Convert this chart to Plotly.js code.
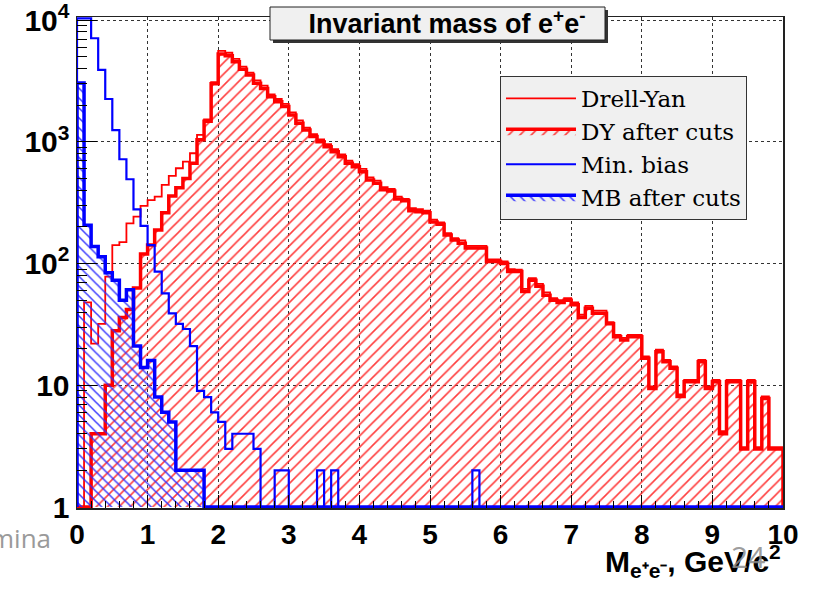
<!DOCTYPE html>
<html><head><meta charset="utf-8">
<script src="https://cdn.plot.ly/plotly-3.0.1.min.js"></script>
<style>html,body{margin:0;padding:0;background:#fff;} #chart{width:815px;height:589px;}</style>
</head><body><div id="chart"></div>
<script>
// ---- histogram range (100 bins of equal width) ----
const xMin = 0, xMax = 10;

// ---- series values, one per bin (0.1 GeV/c^2 each) ----
const drellYan = [
  0, 48, 22, 32, 78, 142, 150, 214, 243, 298,
  332, 355, 443, 525, 607, 687, 806, 1140, 1530, 3100,
  5600, 5400, 4800, 4150, 3700, 3200, 2900, 2450, 2250, 2050,
  1750, 1500, 1310, 1160, 1050, 960, 870, 790, 700, 655,
  600, 510, 480, 425, 410, 355, 340, 285, 280, 272,
  230, 218, 178, 162, 155, 140, 140, 140, 108, 108,
  104, 90, 89, 62, 76, 68, 58, 52, 50, 52,
  48, 38, 45, 41, 41, 33, 26, 24.5, 26, 26,
  17.3, 9.8, 19.6, 16.2, 14.3, 8.4, 11.1, 11.1, 16.2, 9.8,
  11.1, 4.2, 11.1, 11.1, 3.1, 11.1, 3.1, 8.1, 3.1, 3.1
];
const dyAfterCuts = [
  0, 0, 4, 4, 10, 28, 36, 42, 63, 120,
  142, 189, 262, 360, 420, 500, 667, 1040, 1480, 3000,
  5270, 5100, 4560, 3950, 3550, 3030, 2750, 2350, 2140, 1950,
  1665, 1420, 1253, 1105, 1000, 910, 830, 755, 667, 625,
  569, 486, 457, 405, 395, 340, 328, 272, 267, 262,
  220, 210, 172, 156, 147, 134, 134, 134, 104, 104,
  100, 86, 86, 59, 73, 65, 55, 50, 48, 50,
  46, 36, 43, 39, 39, 32, 25, 23.6, 25, 25,
  16.7, 9.4, 18.9, 15.6, 13.8, 8.1, 10.7, 10.7, 15.6, 9.4,
  10.7, 4, 10.7, 10.7, 3, 10.7, 3, 7.8, 3, 3
];
const minBias = [
  15000, 11000, 7100, 3900, 2250, 1250, 720, 493, 279, 204,
  142, 86, 57, 39, 32, 29, 21, 9, 8, 6,
  5, 3, 4, 4, 4, 3, 0, 0, 2, 2,
  0, 0, 0, 0, 2, 0, 2, 0, 0, 0,
  0, 0, 0, 0, 0, 0, 0, 0, 0, 0,
  0, 0, 0, 0, 0, 0, 2, 0, 0, 0,
  0, 0, 0, 0, 0, 0, 0, 0, 0, 0,
  0, 0, 0, 0, 0, 0, 0, 0, 0, 0,
  0, 0, 0, 0, 0, 0, 0, 0, 0, 0,
  0, 0, 0, 0, 0, 0, 0, 0, 0, 0
];
const mbAfterCuts = [
  3050, 207, 138, 114, 84, 73, 50, 61, 21, 14,
  16, 8, 6, 5, 2, 2, 2, 2, 0, 0,
  0, 0, 0, 0, 0, 0, 0, 0, 0, 0,
  0, 0, 0, 0, 0, 0, 0, 0, 0, 0,
  0, 0, 0, 0, 0, 0, 0, 0, 0, 0,
  0, 0, 0, 0, 0, 0, 0, 0, 0, 0,
  0, 0, 0, 0, 0, 0, 0, 0, 0, 0,
  0, 0, 0, 0, 0, 0, 0, 0, 0, 0,
  0, 0, 0, 0, 0, 0, 0, 0, 0, 0,
  0, 0, 0, 0, 0, 0, 0, 0, 0, 0
];

// ---- names and tick labels ----
const seriesNames = ['Drell-Yan', 'DY after cuts', 'Min. bias', 'MB after cuts'];
const xTickVals = [0, 1, 2, 3, 4, 5, 6, 7, 8, 9, 10];
const yTickVals = [1, 10, 100, 1000, 10000];
const yTickText = ['1', '10', '10<sup>2</sup>', '10<sup>3</sup>', '10<sup>4</sup>'];
const titleText = 'Invariant mass of e<sup>+</sup>e<sup>-</sup>';
const xTitleText = 'M<sub>e⁺e⁻</sub>, GeV/c<sup>2</sup>';

// ---- layout constants ----
const yLogMin = -0.0082, yLogMax = 4.026;
const floorVal = 1;                              // ROOT draws empty bins on the axis minimum
const ceilVal = Math.pow(10, yLogMax - 0.012);   // and clips overflow at the frame top

function stepOutline(vals) {
  const n = vals.length, w = (xMax - xMin) / n;
  const xs = [xMin], ys = [floorVal];
  for (let i = 0; i < n; i++) {
    xs.push(xMin + i * w);
    ys.push(Math.min(ceilVal, Math.max(floorVal, vals[i])));
  }
  xs.push(xMax); ys.push(floorVal);
  return {xs, ys};
}

const RED = '#ff0000', BLUE = '#0000ff';
const sDY = stepOutline(drellYan), sDYc = stepOutline(dyAfterCuts);
const sMB = stepOutline(minBias), sMBc = stepOutline(mbAfterCuts);

const traces = [
  {x: sDY.xs, y: sDY.ys, name: seriesNames[0], mode: 'lines', line: {shape: 'hv', color: RED, width: 1.8}},
  {x: sDYc.xs, y: sDYc.ys, name: seriesNames[1], mode: 'lines', line: {shape: 'hv', color: RED, width: 3.5},
   fill: 'toself', fillcolor: 'rgba(0,0,0,0)',
   fillpattern: {shape: '/', size: 8, solidity: 0.2, fgcolor: '#ff2a2a', fgopacity: 0.9, bgcolor: 'rgba(0,0,0,0)', fillmode: 'overlay'}},
  {x: sMB.xs, y: sMB.ys, name: seriesNames[2], mode: 'lines', line: {shape: 'hv', color: BLUE, width: 2.2}},
  {x: sMBc.xs, y: sMBc.ys, name: seriesNames[3], mode: 'lines', line: {shape: 'hv', color: BLUE, width: 3.5},
   fill: 'toself', fillcolor: 'rgba(0,0,0,0)',
   fillpattern: {shape: '\\', size: 7, solidity: 0.22, fgcolor: '#2a2aff', fgopacity: 0.9, bgcolor: 'rgba(0,0,0,0)', fillmode: 'overlay'}}
];

// minor ticks on the log axis: 2..9 in every decade
const yMinor = [];
for (let d = 0; d < 4; d++) for (let k = 2; k <= 9; k++) yMinor.push(k * Math.pow(10, d));

const layout = {
  width: 815, height: 589,
  margin: {l: 77, r: 32, t: 17, b: 81, pad: 0},
  paper_bgcolor: '#ffffff', plot_bgcolor: '#ffffff',
  showlegend: true,
  title: {text: titleText, xref: 'container', yref: 'container', x: 447 / 815, xanchor: 'center',
          y: 1 - 24 / 589, yanchor: 'middle',
          font: {family: 'Liberation Sans, Arial, sans-serif', size: 27, color: '#000', weight: 'bold'}},
  xaxis: {
    range: [xMin, xMax], tickmode: 'array', tickvals: xTickVals,
    ticks: 'inside', ticklen: 13, tickwidth: 1, tickcolor: '#000',
    minor: {dtick: 0.2, ticks: 'inside', ticklen: 7, tickwidth: 1, tickcolor: '#000', showgrid: false},
    showgrid: true, gridcolor: '#333', griddash: 'dot', gridwidth: 1,
    showline: true, linecolor: '#222', linewidth: 1.5, mirror: true, zeroline: false,
    tickfont: {family: 'Liberation Sans, Arial, sans-serif', size: 28, color: '#000', weight: 'bold'},
    ticklabelstandoff: 1, ticklabeloverflow: 'allow'
  },
  yaxis: {
    type: 'log', range: [yLogMin, yLogMax], tickmode: 'array', tickvals: yTickVals, ticktext: yTickText,
    ticks: 'inside', ticklen: 20, tickwidth: 1, tickcolor: '#000',
    minor: {tickmode: 'array', tickvals: yMinor, ticks: 'inside', ticklen: 10, tickwidth: 1, tickcolor: '#000', showgrid: false},
    showgrid: true, gridcolor: '#333', griddash: 'dot', gridwidth: 1,
    showline: true, linecolor: '#222', linewidth: 1.5, mirror: true, zeroline: false,
    tickfont: {family: 'Liberation Sans, Arial, sans-serif', size: 30, color: '#000', weight: 'bold'},
    ticklabelstandoff: 0, ticklabeloverflow: 'allow'
  },
  legend: {
    x: (500 - 77) / 706, y: (508 - 76) / 491, xanchor: 'left', yanchor: 'top',
    bgcolor: '#f0f0f0', bordercolor: '#333', borderwidth: 1,
    font: {family: 'DejaVu Serif, Liberation Serif, serif', size: 23, color: '#000'},
    itemwidth: 70, traceorder: 'normal', tracegroupgap: 0
  },
  shapes: [
    {type: 'rect', xref: 'paper', yref: 'paper', layer: 'above',
     x0: (273 - 77) / 706, x1: (608 - 77) / 706, y0: (508 - 43) / 491, y1: (508 - 10) / 491,
     fillcolor: '#333', line: {width: 0}},
    {type: 'rect', xref: 'paper', yref: 'paper', layer: 'above',
     x0: (270 - 77) / 706, x1: (605 - 77) / 706, y0: (508 - 40) / 491, y1: (508 - 7) / 491,
     fillcolor: '#f0f0f0', line: {color: '#222', width: 1}}
  ],
  annotations: [
    {text: xTitleText, xref: 'paper', yref: 'paper', x: 1, xanchor: 'right', y: (508 - 561) / 491, yanchor: 'middle',
     showarrow: false, font: {family: 'Liberation Sans, Arial, sans-serif', size: 30, color: '#000', weight: 'bold'}},
    {text: 'mina', xref: 'paper', yref: 'paper', x: (53 - 77) / 706, xanchor: 'right', y: (508 - 538) / 491, yanchor: 'middle',
     showarrow: false, font: {family: 'Open Sans, sans-serif', size: 26, color: '#9a9a9a'}},
    {text: '24', xref: 'paper', yref: 'paper', x: (748 - 77) / 706, xanchor: 'center', y: (508 - 556) / 491, yanchor: 'middle',
     showarrow: false, font: {family: 'Open Sans, sans-serif', size: 30, color: 'rgba(140,140,140,0.85)'}}
  ]
};

Plotly.newPlot('chart', traces, layout, {staticPlot: true, displayModeBar: false});
</script>
</body></html>
